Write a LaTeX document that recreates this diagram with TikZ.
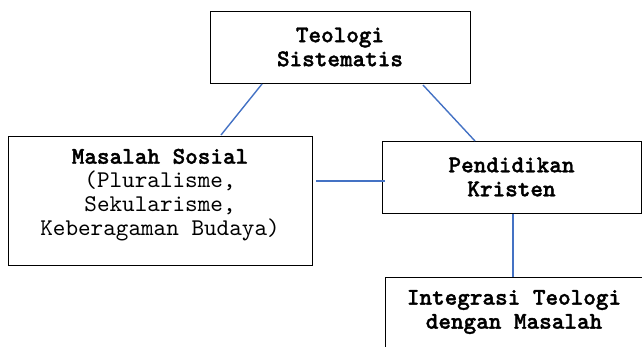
\documentclass[tikz,border=0pt]{standalone}
\usepackage{fontspec}
\setmonofont{lmmono10-regular.otf}[BoldFont=lmmonolt10-bold.otf,BoldFeatures={FakeBold=1.5}]
\definecolor{connblue}{HTML}{4472C4}
\begin{document}
\begin{tikzpicture}[x=1pt,y=-1pt,
  box/.style={draw=black,line width=1pt,rectangle,inner sep=0pt},
  conn/.style={draw=connblue,line width=1.4pt},
  lbl/.style={font=\fontsize{24}{24}\selectfont\ttfamily,align=center,inner sep=0pt},
  blbl/.style={lbl,font=\fontsize{24}{24}\selectfont\ttfamily\bfseries}]
\useasboundingbox (0,0) rectangle (642,346);
\clip (0,0) rectangle (642,346);
% boxes
\node[box,minimum width=260pt,minimum height=72pt] (ts) at (340,47) {};
\node[blbl] (tst) at (340,47) {Teologi\\Sistematis};
\node[box,minimum width=304pt,minimum height=129pt] (ms) at (160,200.5) {};
\node[lbl] (mst) at (160,195) {\textbf{Masalah Sosial}\\(Pluralisme,\\Sekularisme,\\Keberagaman Budaya)};
\node[box,minimum width=259pt,minimum height=72pt] (pk) at (511.5,177) {};
\node[blbl] (pkt) at (511.5,177) {Pendidikan\\Kristen};
\node[box,minimum width=259pt,minimum height=110pt] (ig) at (514.5,332) {};
\node[blbl] (igt) at (514,312) {Integrasi Teologi\\dengan Masalah};
% connector end points
\coordinate (c1a) at (262,84);
\coordinate (c1b) at (221,135);
\coordinate (c2a) at (423,85);
\coordinate (c2b) at (475,141);
\coordinate (c3a) at (316,181);
\coordinate (c3b) at (385,181);
\coordinate (c4a) at (513,214);
\coordinate (c4b) at (513,277);
\draw[conn] (c1a) -- (c1b);
\draw[conn] (c2a) -- (c2b);
\draw[conn] (c3a) -- (c3b);
\draw[conn] (c4a) -- (c4b);
\end{tikzpicture}
\end{document}
